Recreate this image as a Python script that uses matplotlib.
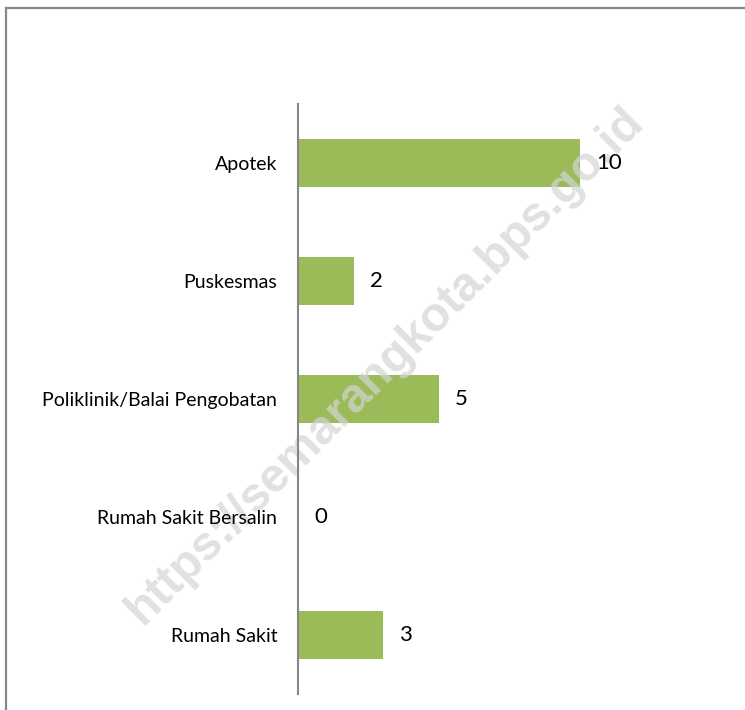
import matplotlib.pyplot as plt
from matplotlib.lines import Line2D

# data (top to bottom as drawn)
categories = ['Apotek', 'Puskesmas', 'Poliklinik/Balai Pengobatan',
              'Rumah Sakit Bersalin', 'Rumah Sakit']
values = [10, 2, 5, 0, 3]

W, H = 745, 710
fig = plt.figure(figsize=(W / 100, H / 100), dpi=100)
plt.rcParams['font.family'] = ['Lato', 'DejaVu Sans']

# chart border (only top and left edges fall inside the image)
fig.add_artist(Line2D([5.5 / W, 5.5 / W], [0, 1 - 7.5 / H], color='#888888', lw=1.6))
fig.add_artist(Line2D([5.5 / W, 1], [1 - 7.5 / H, 1 - 7.5 / H], color='#888888', lw=1.6))

ax = fig.add_axes([298 / W, 1 - 694 / H, 282 * 1.2 / W, 590 / H])
pos = list(range(len(categories)))
ax.barh(pos, values, height=0.4, color='#9BBB59', zorder=0.5)
ax.set_ylim(len(categories) - 0.5, -0.5)
ax.set_xlim(0, 12)
ax.set_yticks(pos)
ax.set_yticklabels(categories, fontsize=14, color='#000000')
ax.tick_params(axis='y', length=0, pad=15)
ax.set_xticks([])
for s in ['top', 'right', 'bottom']:
    ax.spines[s].set_visible(False)
ax.spines['left'].set_color('#868686')
ax.spines['left'].set_linewidth(1.5)
ax.spines['left'].set_zorder(3)
ax.patch.set_alpha(0)

for y, v in zip(pos, values):
    ax.annotate(str(v), (v, y), xytext=(16, 0), textcoords='offset pixels',
                va='center', ha='left', fontsize=16, zorder=4)

# watermark: over the bars, under the labels
ax.text(385 / W, 1 - 366 / H, 'https://semarangkota.bps.go.id', rotation=45,
        rotation_mode='anchor', ha='center', va='center', fontsize=34.5,
        fontweight='bold', family='Liberation Sans', color='#d4d4d4',
        alpha=0.7, zorder=1.2, transform=fig.transFigure, clip_on=False)

fig.savefig('out.png', dpi=100)
